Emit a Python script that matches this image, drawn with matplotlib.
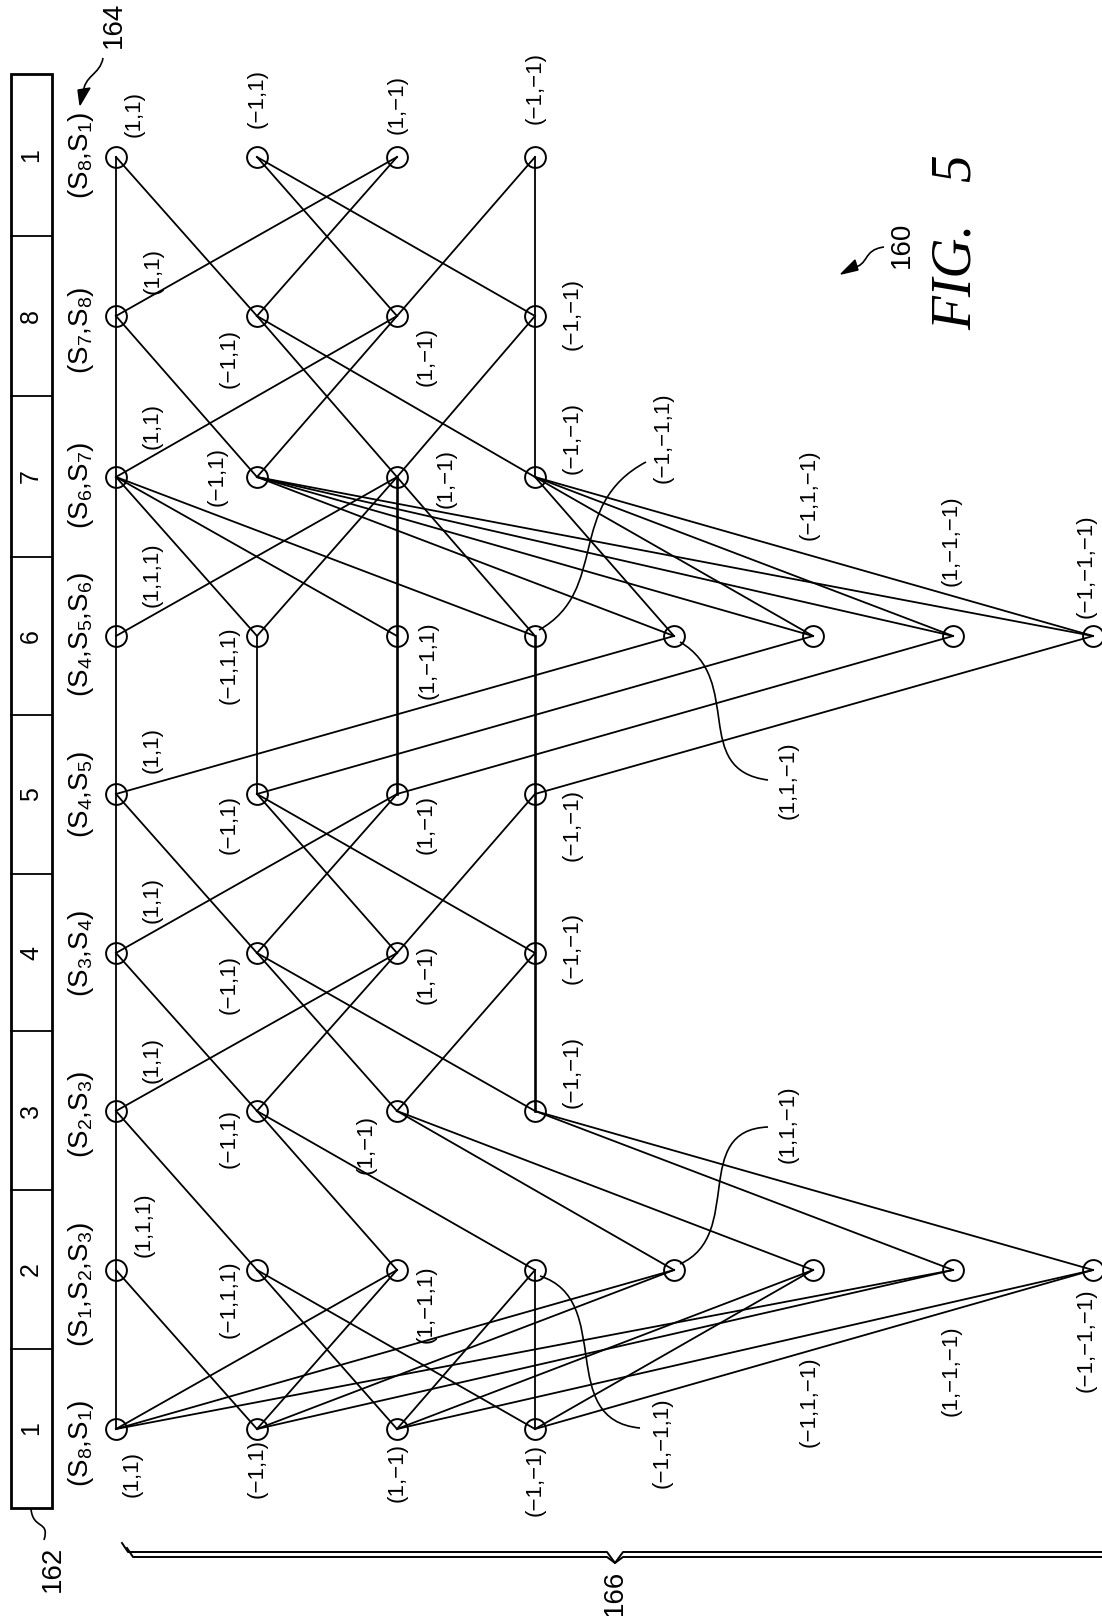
import matplotlib
matplotlib.use("Agg")
import matplotlib.pyplot as plt
from matplotlib.path import Path
from matplotlib.patches import PathPatch, Polygon, Rectangle

plt.rcParams['font.family'] = ['Liberation Sans', 'DejaVu Sans']
plt.rcParams['mathtext.fontset'] = 'custom'
plt.rcParams['mathtext.rm'] = 'Liberation Sans'
plt.rcParams['mathtext.default'] = 'rm'

# --- trellis grid, pixels of the scan ---
col_x = [116, 257, 397, 535, 674, 813, 953, 1093]
row_y = [157, 316, 477, 636, 794, 953, 1111, 1270, 1429]

# --- register at the left ---
reg_labels = ["1", "8", "7", "6", "5", "4", "3", "2", "1"]
reg_edges = [74, 236, 396, 557, 715, 874, 1031, 1190, 1349, 1508]

state_labels = ["(S$_8$,S$_1$)", "(S$_7$,S$_8$)", "(S$_6$,S$_7$)", "(S$_4$,S$_5$,S$_6$)", "(S$_4$,S$_5$)",
                "(S$_3$,S$_4$)", "(S$_2$,S$_3$)", "(S$_1$,S$_2$,S$_3$)", "(S$_8$,S$_1$)"]
state_y = [155, 330, 485, 634, 794, 953, 1114, 1284, 1443]

# --- nodes (column, row) ---
nodes = [(c, r) for r in (0, 1, 2, 4, 5, 6, 8, 3, 7) for c in range(4)]
nodes += [(c, r) for r in (3, 7) for c in range(4, 8)]

# --- straight runs along a column ---
runs = [(0, 0, 8), (3, 0, 2), (3, 7, 8), (1, 3, 4)]
thick_runs = [(2, 2, 4), (3, 3, 6)]

# --- edges: from (col, row) to (col, row) ---
edges = [
    ((0, 0), (1, 1)), ((1, 0), (2, 1)), ((1, 0), (3, 1)), ((2, 0), (0, 1)), ((2, 0), (1, 1)), ((3, 0), (2, 1)),
    ((0, 1), (1, 2)), ((1, 1), (2, 2)), ((1, 1), (3, 2)), ((2, 1), (0, 2)), ((2, 1), (1, 2)), ((3, 1), (2, 2)),
    ((0, 2), (1, 3)), ((0, 2), (2, 3)), ((0, 2), (3, 3)), ((2, 2), (0, 3)), ((2, 2), (1, 3)), ((2, 2), (3, 3)),
    ((1, 2), (4, 3)), ((1, 2), (5, 3)), ((1, 2), (6, 3)), ((1, 2), (7, 3)),
    ((3, 2), (4, 3)), ((3, 2), (5, 3)), ((3, 2), (6, 3)), ((3, 2), (7, 3)),
    ((0, 4), (4, 3)), ((1, 4), (5, 3)), ((2, 4), (6, 3)), ((3, 4), (7, 3)),
    ((0, 4), (1, 5)), ((1, 4), (2, 5)), ((1, 4), (3, 5)), ((2, 4), (0, 5)), ((2, 4), (1, 5)), ((3, 4), (2, 5)),
    ((0, 5), (1, 6)), ((1, 5), (2, 6)), ((1, 5), (3, 6)), ((2, 5), (0, 6)), ((2, 5), (1, 6)), ((3, 5), (2, 6)),
    ((0, 6), (1, 7)), ((1, 6), (2, 7)), ((1, 6), (3, 7)),
    ((2, 6), (4, 7)), ((2, 6), (5, 7)), ((3, 6), (6, 7)), ((3, 6), (7, 7)),
    ((0, 7), (1, 8)), ((1, 7), (2, 8)), ((1, 7), (3, 8)), ((2, 7), (0, 8)), ((2, 7), (1, 8)), ((3, 7), (2, 8)),
    ((0, 8), (4, 7)), ((1, 8), (4, 7)), ((2, 8), (5, 7)), ((3, 8), (5, 7)),
    ((0, 8), (6, 7)), ((1, 8), (6, 7)), ((2, 8), (7, 7)), ((3, 8), (7, 7)),
]

# --- node captions ---
captions = ["(1,1)", "(−1,1)", "(1,−1)", "(−1,−1)",
            "(1,1)", "(−1,1)", "(1,−1)", "(−1,−1)",
            "(1,1)", "(−1,1)", "(1,−1)", "(−1,−1)",
            "(1,1,1)", "(−1,1,1)", "(1,−1,1)", "(−1,−1,1)", "(1,1,−1)", "(−1,1,−1)", "(1,−1,−1)", "(−1,−1,−1)",
            "(1,1)", "(−1,1)", "(1,−1)", "(−1,−1)",
            "(1,1)", "(−1,1)", "(1,−1)", "(−1,−1)",
            "(1,1)", "(−1,1)", "(1,−1)", "(−1,−1)",
            "(1,1,1)", "(−1,1,1)", "(1,−1,1)", "(−1,−1,1)", "(1,1,−1)", "(−1,1,−1)", "(1,−1,−1)", "(−1,−1,−1)",
            "(1,1)", "(−1,1)", "(1,−1)", "(−1,−1)"]
caption_x = [134, 257, 397, 535,
             153, 229, 426, 572,
             152, 217, 446, 572,
             152, 229, 428, 663, 788, 809, 951, 1086,
             152, 229, 426, 572,
             152, 229, 426, 572,
             152, 229, 366, 572,
             144, 229, 426, 662, 788, 809, 951, 1086,
             132, 257, 397, 535]
caption_y = [114, 98, 105, 88,
             271, 359, 356, 314,
             426, 477, 479, 438,
             575, 665, 660, 438, 780, 495, 541, 566,
             750, 825, 825, 825,
             900, 985, 975, 948,
             1060, 1139, 1144, 1072,
             1225, 1299, 1304, 1443, 1124, 1402, 1371, 1340,
             1474, 1469, 1472, 1480]

# --- curved leaders: control points of one cubic ---
leaders = [
    [(539, 630), (610, 590), (565, 505), (646, 462)],
    [(680, 642), (745, 680), (690, 770), (768, 780)],
    [(680, 1264), (745, 1235), (690, 1130), (768, 1127)],
    [(540, 1276), (615, 1300), (555, 1420), (640, 1428)],
]

fig = plt.figure(figsize=(11.02, 16.16), dpi=100)
ax = fig.add_axes([0, 0, 1, 1])
ax.set_xlim(0, 1102)
ax.set_ylim(1616, 0)
ax.axis("off")


def xy(n):
    return col_x[n[0]], row_y[n[1]]


def squiggle(pts):
    ax.add_patch(PathPatch(Path(pts, [Path.MOVETO, Path.CURVE4, Path.CURVE4, Path.CURVE4]),
                           fill=False, ec="black", lw=1.2))


# register
ax.add_patch(Rectangle((11, 74), 41, 1434, fill=False, ec="black", lw=2.0))
for e in reg_edges[1:-1]:
    ax.plot([11, 52], [e, e], color="black", lw=1.3)
for i, lab in enumerate(reg_labels):
    ax.text(31, (reg_edges[i] + reg_edges[i + 1]) / 2, lab, rotation=90, ha="center", va="center", fontsize=18)

for lab, y in zip(state_labels, state_y):
    ax.text(81, y, lab, rotation=90, ha="center", va="center", fontsize=20)

# trellis
for c, r0, r1 in runs:
    ax.plot([col_x[c], col_x[c]], [row_y[r0], row_y[r1]], color="black", lw=1.3)
for c, r0, r1 in thick_runs:
    ax.plot([col_x[c], col_x[c]], [row_y[r0], row_y[r1]], color="black", lw=1.9)
for a, b in edges:
    xa, ya = xy(a)
    xb, yb = xy(b)
    ax.plot([xa, xb], [ya, yb], color="black", lw=1.3)
for n in nodes:
    x, y = xy(n)
    ax.plot(x, y, "o", ms=15, mfc="none", mec="black", mew=1.4)

for x, y, lab in zip(caption_x, caption_y, captions):
    ax.text(x, y, lab, rotation=90, ha="center", va="center", fontsize=16)

for pts in leaders:
    squiggle(pts)

# reference numerals
ax.text(53, 1569, "162", rotation=90, ha="center", va="center", fontsize=20)
squiggle([(31, 1509), (33, 1530), (50, 1520), (44, 1540)])
ax.text(114, 25, "164", rotation=90, ha="center", va="center", fontsize=20)
squiggle([(103, 58), (100, 75), (84, 75), (83, 94)])
ax.add_patch(Polygon([(78, 90), (90, 88), (80, 105)], color="black"))
ax.text(902, 245, "160", rotation=90, ha="center", va="center", fontsize=20)
squiggle([(884, 247), (862, 250), (870, 265), (852, 268)])
ax.add_patch(Polygon([(841, 274), (855, 260), (858, 270)], color="black"))
ax.text(957, 242, "FIG.   5", rotation=90, ha="center", va="center", fontsize=40,
        family="Liberation Serif", style="italic")

# brace under the trellis
for off in (0, 5):
    ax.plot([122 + off, 128 + off, 607, 615, 623, 1102], [1543 + off, 1552 + off, 1552 + off, 1563, 1552 + off, 1552 + off],
            color="black", lw=1.4)
ax.text(615, 1593, "166", rotation=90, ha="center", va="center", fontsize=20)

fig.savefig("out.png", dpi=100)
